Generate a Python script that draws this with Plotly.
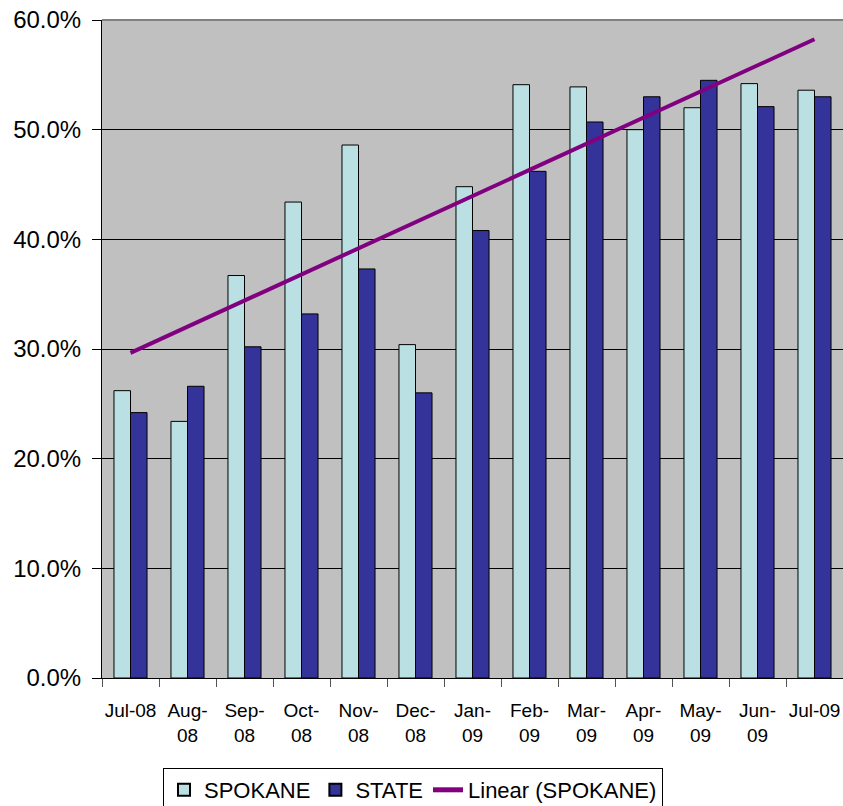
import numpy as np
import plotly.graph_objects as go

months = ["Jul-08", "Aug-<br>08", "Sep-<br>08", "Oct-<br>08", "Nov-<br>08", "Dec-<br>08",
          "Jan-<br>09", "Feb-<br>09", "Mar-<br>09", "Apr-<br>09", "May-<br>09", "Jun-<br>09", "Jul-09"]
spokane = [0.262, 0.234, 0.367, 0.434, 0.486, 0.304, 0.448, 0.541, 0.539, 0.500, 0.520, 0.542, 0.536]
state = [0.242, 0.266, 0.302, 0.332, 0.373, 0.260, 0.408, 0.462, 0.507, 0.530, 0.545, 0.521, 0.530]

# Linear trendline of SPOKANE (least squares, like Excel)
idx = np.arange(len(spokane))
slope, intercept = np.polyfit(idx, spokane, 1)
trend = list(slope * idx + intercept)

font = "Liberation Sans, Arial, sans-serif"

fig = go.Figure()
fig.add_trace(go.Bar(x=months, y=spokane, name="SPOKANE",
                     marker=dict(color="#BAE0E3", line=dict(color="#000000", width=1))))
fig.add_trace(go.Bar(x=months, y=state, name="STATE",
                     marker=dict(color="#333399", line=dict(color="#000000", width=1))))
fig.add_trace(go.Scatter(x=months, y=trend, name="Linear (SPOKANE)", mode="lines",
                         line=dict(color="#800080", width=4)))

fig.update_layout(
    width=843, height=806,
    margin=dict(l=102, r=0, t=20, b=128, autoexpand=False),
    paper_bgcolor="#FFFFFF",
    plot_bgcolor="#C0C0C0",
    barmode="group",
    bargap=0.42,
    bargroupgap=0,
    showlegend=True,
    legend=dict(orientation="h", x=(163 - 102) / 741, xanchor="left",
                y=-(768 - 678) / 658, yanchor="top",
                font=dict(family=font, size=22, color="#000000"),
                bordercolor="#000000", borderwidth=1, bgcolor="#FFFFFF",
                itemsizing="constant", tracegroupgap=0),
    xaxis=dict(type="category", tickson="boundaries", ticks="outside", ticklen=8,
               tickcolor="#555555", showgrid=False,
               showline=True, linecolor="#000000", linewidth=1,
               ticklabelstandoff=15,
               tickfont=dict(family=font, size=19, color="#000000"),
               tickangle=0),
    yaxis=dict(range=[0, 0.6], dtick=0.1, tickformat=".1%", ticks="outside", ticklen=9,
               tickcolor="#000000", ticklabelstandoff=6,
               showgrid=True, gridcolor="#000000", gridwidth=1,
               showline=True, linecolor="#000000", linewidth=1,
               zeroline=False,
               tickfont=dict(family=font, size=24, color="#000000")),
)

# top border of plot area
fig.add_shape(type="line", xref="paper", yref="paper", x0=0, x1=1, y0=1, y1=1,
              line=dict(color="#808080", width=2))

fig.write_html("out.html")
